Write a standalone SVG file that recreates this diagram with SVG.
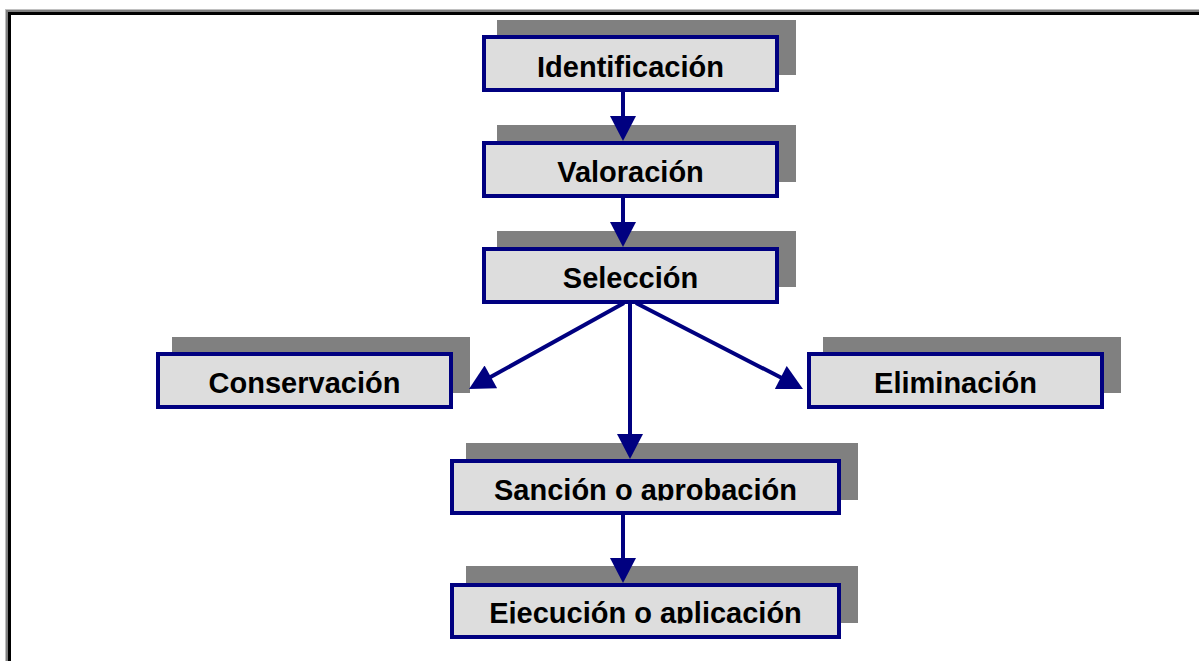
<svg xmlns="http://www.w3.org/2000/svg" width="1199" height="661" viewBox="0 0 1199 661">
<style>
.sh{fill:#808080}
.bx{fill:#DDDDDD;stroke:#000080;stroke-width:4}
.tx{font-family:"Liberation Sans",Arial,sans-serif;font-weight:bold;font-size:29px;fill:#000;text-anchor:middle}
.cn{stroke:#000080;stroke-width:4;fill:none;marker-end:url(#ah)}
</style>
<defs>
<marker id="ah" markerUnits="userSpaceOnUse" markerWidth="26" markerHeight="26" viewBox="0 0 25 26" refX="5" refY="13" orient="auto">
<path d="M0,0 L25,13 L0,26 Z" fill="#000080"/>
</marker>
<clipPath id="c6"><rect x="440" y="440" width="430" height="60.5"/></clipPath>
<clipPath id="c7"><rect x="440" y="560" width="430" height="63.5"/></clipPath>
</defs>
<rect width="1199" height="661" fill="#fff"/>
<g id="frame">
<rect x="5" y="9" width="1194" height="1" fill="#c0c0c0"/>
<rect x="5" y="9" width="1" height="652" fill="#c0c0c0"/>
<rect x="6" y="10" width="1193" height="2" fill="#808080"/>
<rect x="6" y="10" width="2" height="651" fill="#808080"/>
<rect x="8" y="12" width="1191" height="3" fill="#000"/>
<rect x="8" y="12" width="3" height="649" fill="#000"/>
</g>
<g id="identificacion">
<rect class="sh" x="497" y="20" width="299" height="55"/>
<rect class="bx" x="484" y="37" width="293" height="53"/>
<text class="tx" x="630.5" y="76.5">Identificación</text>
</g>
<g id="valoracion">
<rect class="sh" x="497" y="125" width="299" height="57"/>
<rect class="bx" x="484" y="143" width="293" height="53"/>
<text class="tx" x="630.5" y="182">Valoración</text>
</g>
<g id="seleccion">
<rect class="sh" x="497" y="231" width="299" height="56"/>
<rect class="bx" x="484" y="249" width="293" height="53"/>
<text class="tx" x="630.5" y="288">Selección</text>
</g>
<g id="conservacion">
<rect class="sh" x="172" y="337" width="298" height="56"/>
<rect class="bx" x="158" y="354" width="293" height="53"/>
<text class="tx" x="304.5" y="393">Conservación</text>
</g>
<g id="eliminacion">
<rect class="sh" x="823" y="337" width="298" height="56"/>
<rect class="bx" x="809" y="354" width="293" height="53"/>
<text class="tx" x="955.5" y="393">Eliminación</text>
</g>
<g id="sancion">
<rect class="sh" x="466" y="443" width="392" height="57"/>
<rect class="bx" x="452" y="461" width="387" height="52"/>
<text class="tx" x="645.5" y="500" clip-path="url(#c6)">Sanción o aprobación</text>
</g>
<g id="ejecucion">
<rect class="sh" x="466" y="566" width="392" height="57"/>
<rect class="bx" x="452" y="585" width="387" height="52"/>
<text class="tx" x="645.5" y="623" clip-path="url(#c7)">Ejecución o aplicación</text>
</g>
<g id="connectors">
<line class="cn" x1="623" y1="92" x2="623" y2="121"/>
<line class="cn" x1="623" y1="198" x2="623" y2="227"/>
<line class="cn" x1="630" y1="304" x2="630" y2="439"/>
<line class="cn" x1="624" y1="303" x2="486.5" y2="379.3"/>
<line class="cn" x1="636" y1="303" x2="785.2" y2="379.8"/>
<line class="cn" x1="623" y1="515" x2="623" y2="563"/>
</g>
</svg>
